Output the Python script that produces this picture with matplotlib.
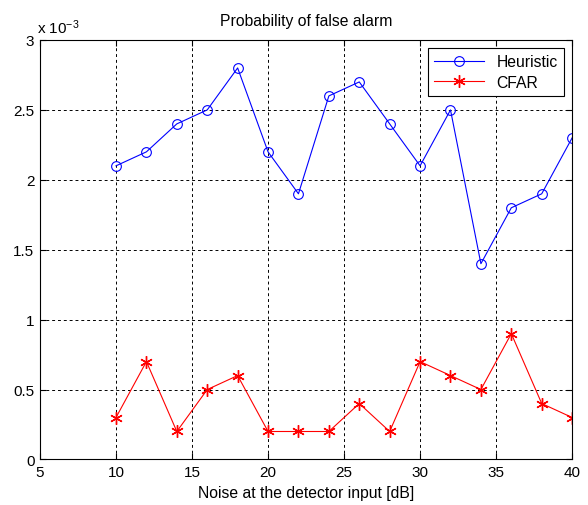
import matplotlib
matplotlib.use("Agg")
import matplotlib.pyplot as plt

plt.rcParams['font.family'] = ['Liberation Sans', 'DejaVu Sans']
plt.rcParams['mathtext.default'] = 'regular'

# noise level at the detector input, dB
noise_db = [10, 12, 14, 16, 18, 20, 22, 24, 26, 28, 30, 32, 34, 36, 38, 40]

# false alarm probability, units of 1e-3
pfa_heuristic = [2.1, 2.2, 2.4, 2.5, 2.8, 2.2, 1.9, 2.6, 2.7, 2.4, 2.1, 2.5, 1.4, 1.8, 1.9, 2.3]
pfa_cfar = [0.3, 0.7, 0.2, 0.5, 0.6, 0.2, 0.2, 0.2, 0.4, 0.2, 0.7, 0.6, 0.5, 0.9, 0.4, 0.3]

x_ticks = [5, 10, 15, 20, 25, 30, 35, 40]
y_ticks = [0, 0.5, 1, 1.5, 2, 2.5, 3]


def main():
    fig = plt.figure(figsize=(5.88, 5.06), dpi=100)
    ax = fig.add_axes([0.068, 0.090, 0.905, 0.829])

    ax.plot(noise_db, pfa_heuristic, color='blue', lw=0.8, marker='o',
            markersize=7, markerfacecolor='none', markeredgewidth=0.8,
            label='Heuristic')
    # asterisk marker: six spokes
    ax.plot(noise_db, pfa_cfar, color='red', lw=0.8, marker=(6, 2, 0),
            markersize=9, markeredgewidth=1.0, label='CFAR')

    ax.set_xlim(5, 40)
    ax.set_ylim(0, 3)
    ax.set_xticks(x_ticks)
    ax.set_yticks(y_ticks)
    ax.set_xticklabels([str(t) for t in x_ticks])
    ax.set_yticklabels(['0', '0.5', '1', '1.5', '2', '2.5', '3'])
    ax.tick_params(direction='in', labelsize=11, length=4, top=True, right=True,
                   pad=4)
    ax.grid(True, color='black', linestyle=(0, (3, 3)), linewidth=0.7)

    for s in ax.spines.values():
        s.set_linewidth(0.8)

    ax.set_title('Probability of false alarm', fontsize=11.3, pad=11)
    ax.set_xlabel('Noise at the detector input [dB]', fontsize=11.3, labelpad=4)
    ax.text(-0.005, 1.01, r'x 10$^{-3}$', transform=ax.transAxes, fontsize=11,
            ha='left', va='bottom')

    leg = ax.legend(loc='upper right', fontsize=11.3, fancybox=False,
                    framealpha=1, edgecolor='black', borderaxespad=0.5,
                    handlelength=3.2, borderpad=0.4, labelspacing=0.35)
    leg.get_frame().set_linewidth(0.8)

    fig.savefig('out.png', dpi=100)


if __name__ == "__main__":
    main()
